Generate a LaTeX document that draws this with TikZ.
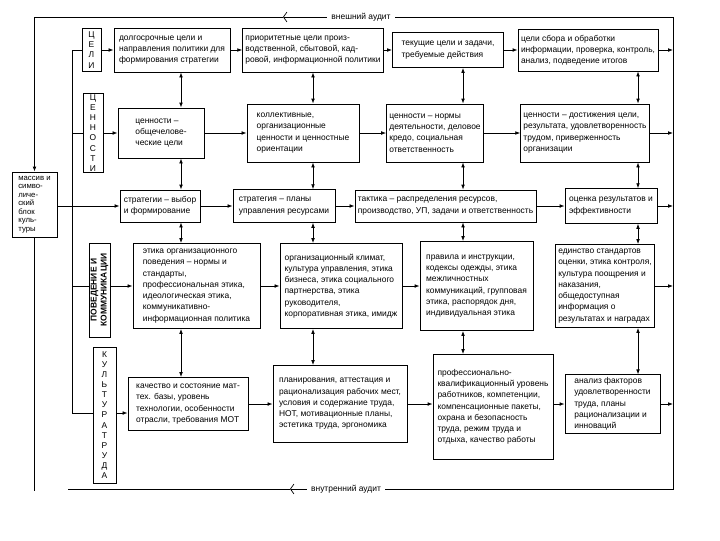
\documentclass[tikz,border=0pt]{standalone}
\usepackage{fontspec}
\setmainfont{Liberation Sans}
\usetikzlibrary{arrows.meta}

\begin{document}
\begin{tikzpicture}[
    x=0.025cm, y=-0.025cm,
    box/.style={rectangle, draw=black, line width=0.6pt, align=left, inner sep=2pt, font=\fontsize{6}{8}\selectfont},
    lbl/.style={rectangle, draw=black, line width=0.6pt, align=center, inner sep=1pt, font=\fontsize{6}{7.2}\selectfont},
    arrow/.style={-{Latex[length=3.5pt,width=2.6pt]}, line width=0.5pt},
    dbl/.style={{Latex[length=3.5pt,width=2.6pt]}-{Latex[length=3.5pt,width=2.6pt]}, line width=0.5pt},
    barb/.style={-{Straight Barb[length=2.5pt,width=7pt]}, line width=0.5pt},
    wire/.style={line width=0.5pt}
]
\useasboundingbox (0,0) rectangle (720,540);

% frame corners and columns
\coordinate (tl) at (34.5,17);
\coordinate (tr) at (673,17);
\coordinate (br) at (673,489);
\coordinate (bl) at (68,489);
\coordinate (tmark) at (283,17);
\coordinate (bmark) at (290,489);
\coordinate (lend) at (34.5,491);
\coordinate (bus) at (72,413);
\coordinate (k1) at (181,0);
\coordinate (k2) at (313,0);
\coordinate (k3) at (463,0);
\coordinate (k4) at (638,0);

% row labels
\node[lbl, minimum width=0.475cm, minimum height=1.075cm] (l1) at (91.5,50) {Ц\\Е\\Л\\И};
\node[lbl, minimum width=0.5cm, minimum height=1.95cm] (l2) at (93,133) {Ц\\Е\\Н\\Н\\О\\С\\Т\\И};
\node[lbl, rotate=90, minimum width=2.35cm, minimum height=0.525cm, font=\fontsize{6}{7}\selectfont\bfseries] (l3) at (99.5,290) {ПОВЕДЕНИЕ И\\КОММУНИКАЦИИ};
\node[lbl, minimum width=0.575cm, minimum height=3.4cm] (l4) at (104.5,415) {К\\У\\Л\\Ь\\Т\\У\\Р\\А\\Т\\Р\\У\\Д\\А};

% left block
\node[box, minimum width=1.125cm, minimum height=1.625cm, font=\fontsize{5.5}{6.1}\selectfont] (mas) at (34.5,204.5) {массив и\\симво-\\личе-\\ский\\блок\\куль-\\туры};

% row 1
\node[box, minimum width=2.9cm, minimum height=1.1cm] (a1) at (172,50) {долгосрочные цели и\\направления политики для\\формирования стратегии};
\node[box, minimum width=3.35cm, minimum height=1.1cm] (a2) at (313,50) {приоритетные цели произ-\\водственной, сбытовой, кад-\\ровой, информационной политики};
\node[box, minimum width=2.775cm, minimum height=0.875cm] (a3) at (448,50) {текущие цели и задачи,\\требуемые действия};
\node[box, minimum width=3.5cm, minimum height=1.05cm] (a4) at (588,50) {цели сбора и обработки\\информации, проверка, контроль,\\анализ, подведение итогов};

% row 2
\node[box, minimum width=2.15cm, minimum height=1.25cm] (b1) at (161,133) {ценности –\\общечелове-\\ческие цели};
\node[box, minimum width=2.8cm, minimum height=1.45cm] (b2) at (303,133) {коллективные,\\организационные\\ценности и ценностные\\ориентации};
\node[box, minimum width=2.125cm, minimum height=1.45cm] (b3) at (435,133) {ценности – нормы\\деятельности, деловое\\кредо, социальная\\ответственность};
\node[box, minimum width=3.125cm, minimum height=1.45cm] (b4) at (585,133) {ценности – достижения цели,\\результата, удовлетворенность\\трудом, приверженность\\организации};

% row 3
\node[box, minimum width=2.0cm, minimum height=0.8cm] (c1) at (160,206) {стратегии – выбор\\и формирование};
\node[box, minimum width=2.55cm, minimum height=0.82cm] (c2) at (284,206) {стратегия – планы\\управления ресурсами};
\node[box, minimum width=4.375cm, minimum height=0.8cm] (c3) at (445.5,206) {тактика – распределения ресурсов,\\производство, УП, задачи и ответственность};
\node[box, minimum width=2.3cm, minimum height=0.87cm] (c4) at (611,206) {оценка результатов и\\эффективности};

% row 4
\node[box, minimum width=3.175cm, minimum height=2.125cm] (d1) at (196.5,286) {этика организационного\\поведения – нормы и\\стандарты,\\профессиональная этика,\\идеологическая этика,\\коммуникативно-\\информационная политика};
\node[box, minimum width=3.05cm, minimum height=2.125cm] (d2) at (341,286) {организационный климат,\\культура управления, этика\\бизнеса, этика социального\\партнерства, этика\\руководителя,\\корпоративная этика, имидж};
\node[box, minimum width=2.825cm, minimum height=2.225cm] (d3) at (476.5,286) {правила и инструкции,\\кодексы одежды, этика\\межличностных\\коммуникаций, групповая\\этика, распорядок дня,\\индивидуальная этика};
\node[box, minimum width=2.4cm, minimum height=2.075cm] (d4) at (605,286) {единство стандартов\\оценки, этика контроля,\\культура поощрения и\\наказания,\\общедоступная\\информация о\\результатах и наградах};

% row 5
\node[box, minimum width=3.0cm, minimum height=1.325cm] (e1) at (188,404) {качество и состояние мат-\\тех. базы, уровень\\технологии, особенности\\отрасли, требования МОТ};
\node[box, minimum width=3.35cm, minimum height=1.925cm] (e2) at (340,404) {планирования, аттестация и\\рационализация рабочих мест,\\условия и содержание труда,\\НОТ, мотивационные планы,\\эстетика труда, эргономика};
\node[box, minimum width=3.0cm, minimum height=2.625cm] (e3) at (493,407) {профессионально-\\квалификационный уровень\\работников, компетенции,\\компенсационные пакеты,\\охрана и безопасность\\труда, режим труда и\\отдыха, качество работы};
\node[box, minimum width=2.375cm, minimum height=1.325cm] (e4) at (612.5,404) {анализ факторов\\удовлетворенности\\труда, планы\\рационализации и\\инноваций};

% audit labels
\node[inner sep=3pt, font=\fontsize{6}{7}\selectfont] (ext) at (361,17) {внешний аудит};
\node[inner sep=3pt, font=\fontsize{6}{7}\selectfont] (int) at (346,489) {внутренний аудит};

% outer loop
\draw[wire] (tr) -- (ext.east);
\draw[barb] (ext.west) -- (tmark);
\draw[wire] (tmark) -- (tl);
\draw[arrow] (tl) -- (mas);
\draw[wire] (mas) -- (lend);
\draw[wire] (tr) -- (br) -- (int.east);
\draw[barb] (int.west) -- (bmark);
\draw[wire] (bmark) -- (bl);
\draw[arrow] (mas.east |- c1) -- (c1);

% left bus
\draw[wire] (l1) -| (bus) -- (bus -| l4.west);
\draw[wire] (bus |- l2) -- (l2);
\draw[wire] (bus |- d1) -- (l3.north |- d1);
\draw[arrow] (l1) -- (a1);
\draw[arrow] (l2) -- (b1);
\draw[arrow] (l3.south |- d1) -- (d1);
\draw[arrow] (l4.east |- bus) -- (e1.west |- bus);

% rows
\draw[arrow] (a1) -- (a2);
\draw[arrow] (a2) -- (a3);
\draw[arrow] (a3) -- (a4);
\draw[arrow] (a4) -- (a4 -| tr);
\draw[arrow] (b1) -- (b2);
\draw[arrow] (b2) -- (b3);
\draw[arrow] (b3) -- (b4);
\draw[arrow] (b4) -- (b4 -| tr);
\draw[arrow] (c1) -- (c2);
\draw[arrow] (c2) -- (c3);
\draw[arrow] (c3) -- (c4);
\draw[arrow] (c4) -- (c4 -| tr);
\draw[arrow] (d1) -- (d2);
\draw[arrow] (d2) -- (d3);
\draw[arrow] (d4) -- (d4 -| tr);
\draw[arrow] (e1) -- (e2);
\draw[arrow] (e2) -- (e2 -| e3.west);
\draw[arrow] (e4 -| e3.east) -- (e4);
\draw[arrow] (e4) -- (e4 -| tr);

% columns
\foreach \c in {1,...,4} {
  \draw[dbl] (a\c.south -| k\c) -- (b\c.north -| k\c);
  \draw[dbl] (b\c.south -| k\c) -- (c\c.north -| k\c);
  \draw[dbl] (c\c.south -| k\c) -- (d\c.north -| k\c);
  \draw[dbl] (d\c.south -| k\c) -- (e\c.north -| k\c);
}
\end{tikzpicture}
\end{document}
